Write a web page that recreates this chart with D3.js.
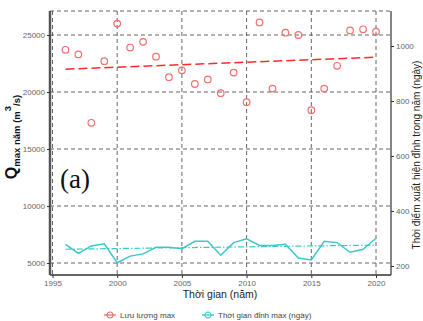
<!DOCTYPE html>
<html>
<head>
<meta charset="utf-8">
<script src="https://cdn.jsdelivr.net/npm/d3@7"></script>
<style>
  body { margin: 0; background: #fff; }
</style>
</head>
<body>
<div id="chart"></div>
<script>
// data
const years = [1996, 1997, 1998, 1999, 2000, 2001, 2002, 2003, 2004, 2005, 2006, 2007, 2008,
               2009, 2010, 2011, 2012, 2013, 2014, 2015, 2016, 2017, 2018, 2019, 2020];
const qMax = [23700, 23300, 17300, 22700, 26000, 23900, 24400, 23100, 21300, 21900, 20700, 21100, 19900,
              21700, 19100, 26100, 20300, 25200, 25000, 18400, 20300, 22300, 25400, 25500, 25300];
const peakDay = [279, 246, 273, 281, 212, 236, 244, 268, 268, 263, 290, 290, 239,
                 285, 299, 275, 275, 279, 229, 222, 290, 285, 250, 261, 301];
const qTrendYears = [1996, 2020];
const qTrend = [22000, 23050];
const dayTrend = [261, 276];
const xTicks = [1995, 2000, 2005, 2010, 2015, 2020];
const qTicks = [5000, 10000, 15000, 20000, 25000];
const dayTicks = [200, 400, 600, 800, 1000];
const legendItems = ["Lưu lượng max", "Thời gian đỉnh max (ngày)"];

const W = 423, H = 321;
const panel = { left: 50, right: 391, top: 11, bottom: 275 };
const sans = "Liberation Sans, Arial, sans-serif";

const svg = d3.select("#chart").append("svg")
    .attr("width", W)
    .attr("height", H)
    .style("font-family", sans);

const x = d3.scaleLinear().domain([1995, 2020]).range([52.5, 376]);
const yQ = d3.scaleLinear().domain([5000, 25000]).range([263, 35]);
const yDay = d3.scaleLinear().domain([200, 1000]).range([266, 46]);

const gridColor = "#555";
const red = "#f07070";
const teal = "#3cc8c8";

// grid lines
svg.append("g").selectAll("line").data(xTicks).join("line")
    .attr("x1", d => x(d)).attr("x2", d => x(d))
    .attr("y1", panel.top).attr("y2", panel.bottom)
    .attr("stroke", gridColor).attr("stroke-width", 0.9).attr("stroke-dasharray", "4,3");
svg.append("g").selectAll("line").data(qTicks).join("line")
    .attr("x1", panel.left).attr("x2", panel.right)
    .attr("y1", d => yQ(d)).attr("y2", d => yQ(d))
    .attr("stroke", gridColor).attr("stroke-width", 0.9).attr("stroke-dasharray", "4,3");
// top border (dashed)
svg.append("line")
    .attr("x1", panel.left).attr("x2", panel.right)
    .attr("y1", panel.top).attr("y2", panel.top)
    .attr("stroke", gridColor).attr("stroke-width", 0.9).attr("stroke-dasharray", "4,3");

// axes
const axisText = g => g.attr("font-family", sans).selectAll("text")
    .attr("fill", "#666").attr("font-size", "8px");

svg.append("g")
    .attr("transform", `translate(0, ${panel.bottom})`)
    .call(d3.axisBottom(x).tickValues(xTicks).tickFormat(d3.format("d")).tickSize(3).tickPadding(2))
    .call(g => g.select(".domain").attr("d", `M${panel.left},0H${panel.right}`).attr("stroke", "#333").attr("stroke-width", 1.5))
    .call(g => g.selectAll(".tick line").attr("stroke", "#333"))
    .call(axisText);

svg.append("g")
    .attr("transform", `translate(${panel.left}, 0)`)
    .call(d3.axisLeft(yQ).tickValues(qTicks).tickFormat(d3.format("d")).tickSize(3).tickPadding(2))
    .call(g => g.select(".domain").attr("d", `M0,${panel.top}V${panel.bottom}`).attr("stroke", "#555").attr("stroke-width", 2.5))
    .call(g => g.selectAll(".tick line").attr("stroke", "#333"))
    .call(axisText);

svg.append("g")
    .attr("transform", `translate(${panel.right}, 0)`)
    .call(d3.axisRight(yDay).tickValues(dayTicks).tickFormat(d3.format("d")).tickSize(3).tickPadding(2))
    .call(g => g.select(".domain").attr("d", `M0,${panel.top}V${panel.bottom}`).attr("stroke", "#333").attr("stroke-width", 1.2))
    .call(g => g.selectAll(".tick line").attr("stroke", "#333"))
    .call(axisText);

// Q max points + trend
svg.append("g").selectAll("circle").data(years).join("circle")
    .attr("cx", d => x(d))
    .attr("cy", (d, i) => yQ(qMax[i]))
    .attr("r", 3.3)
    .attr("fill", "none")
    .attr("stroke", red)
    .attr("stroke-width", 1.2);

svg.append("path")
    .datum(qTrendYears)
    .attr("fill", "none")
    .attr("stroke", "#ff2a2a")
    .attr("stroke-width", 1.5)
    .attr("stroke-dasharray", "9,4")
    .attr("d", d3.line().x(d => x(d)).y((d, i) => yQ(qTrend[i])));

// peak day line + trend
svg.append("path")
    .datum(years)
    .attr("fill", "none")
    .attr("stroke", teal)
    .attr("stroke-width", 1.5)
    .attr("d", d3.line().x(d => x(d)).y((d, i) => yDay(peakDay[i])));

svg.append("path")
    .datum(qTrendYears)
    .attr("fill", "none")
    .attr("stroke", teal)
    .attr("stroke-width", 1.2)
    .attr("stroke-dasharray", "6,2,1.5,2")
    .attr("d", d3.line().x(d => x(d)).y((d, i) => yDay(dayTrend[i])));

// panel label
svg.append("text")
    .attr("x", 60).attr("y", 188)
    .style("font-family", "Liberation Serif, Times New Roman, serif")
    .attr("font-size", "27px")
    .attr("fill", "#111")
    .text("(a)");

// axis titles
svg.append("text")
    .attr("x", 220).attr("y", 298)
    .attr("text-anchor", "middle")
    .attr("font-size", "10.5px")
    .attr("fill", "#222")
    .text("Thời gian (năm)");

const yTitle = svg.append("text")
    .attr("transform", "translate(17, 137) rotate(-90)")
    .attr("text-anchor", "middle")
    .attr("font-weight", "bold")
    .attr("fill", "#111");
yTitle.append("tspan").attr("font-size", "16px").text("Q");
yTitle.append("tspan").attr("font-size", "9.5px").attr("dy", 3).text("max năm (m");
yTitle.append("tspan").attr("font-size", "9.5px").attr("dy", -9).text("3");
yTitle.append("tspan").attr("font-size", "9.5px").attr("dy", 9).text("/s)");

svg.append("text")
    .attr("transform", "translate(420, 155) rotate(-90)")
    .attr("text-anchor", "middle")
    .attr("font-size", "10px")
    .attr("fill", "#222")
    .text("Thời điểm xuất hiện đỉnh trong năm (ngày)");

// legend
const legendX = [110, 208];
const legendColors = [red, teal];
const legend = svg.append("g").selectAll("g").data(legendItems).join("g")
    .attr("transform", (d, i) => `translate(${legendX[i]}, 315)`);
legend.append("line")
    .attr("x1", -6).attr("x2", 6)
    .attr("stroke", (d, i) => legendColors[i]).attr("stroke-width", 1.3);
legend.append("circle")
    .attr("r", 3)
    .attr("fill", "none")
    .attr("stroke", (d, i) => legendColors[i]).attr("stroke-width", 1.2);
legend.append("text")
    .attr("x", 10).attr("y", 3)
    .attr("font-size", "8px")
    .attr("fill", "#444")
    .text(d => d);
</script>
</body>
</html>
